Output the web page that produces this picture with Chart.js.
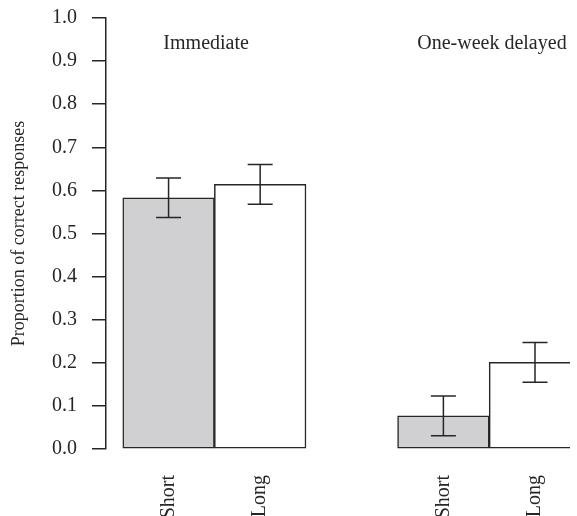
<!DOCTYPE html>
<html>
<head>
<meta charset="utf-8">
<script src="https://cdn.jsdelivr.net/npm/chart.js@4"></script>
<style>
  html, body { margin: 0; padding: 0; background: #fff; overflow: hidden; }
  canvas { display: block; }
</style>
</head>
<body>
<canvas id="myChart" width="577" height="516"></canvas>
<script>
// data
const groups = ["Immediate", "One-week delayed"];
const groupLabelX = [1.41, 4.53];
const tickPos = [1, 2, 4, 5];
const tickLabels = ["Short", "Long", "Short", "Long"];

const shortX = [1, 4];
const shortMeans = [0.583, 0.077];
const shortErr = [0.046, 0.046];

const longX = [2, 5];
const longMeans = [0.614, 0.201];
const longErr = [0.046, 0.046];

const serif = "'Liberation Serif', 'Times New Roman', serif";
const ink = "#262626";

function points(xs, ys) {
  return xs.map((x, i) => ({ x: x, y: ys[i] }));
}

// error bars drawn with the scales
const errorBars = {
  id: "errorBars",
  afterDatasetsDraw(chart) {
    const ctx = chart.ctx;
    const xs = chart.scales.x;
    const ys = chart.scales.y;
    ctx.save();
    ctx.strokeStyle = ink;
    ctx.lineWidth = 1.5;
    chart.data.datasets.forEach((ds) => {
      ds.data.forEach((p, i) => {
        const px = xs.getPixelForValue(p.x);
        const top = ys.getPixelForValue(p.y + ds.err[i]);
        const bot = ys.getPixelForValue(p.y - ds.err[i]);
        ctx.beginPath();
        ctx.moveTo(px, top);
        ctx.lineTo(px, bot);
        ctx.moveTo(px - 12.5, top);
        ctx.lineTo(px + 12.5, top);
        ctx.moveTo(px - 12.5, bot);
        ctx.lineTo(px + 12.5, bot);
        ctx.stroke();
      });
    });
    ctx.restore();
  },
};

// group titles
const groupTitles = {
  id: "groupTitles",
  afterDraw(chart) {
    const ctx = chart.ctx;
    ctx.save();
    ctx.fillStyle = ink;
    ctx.font = "20px " + serif;
    ctx.textAlign = "center";
    ctx.textBaseline = "middle";
    groups.forEach((g, i) => {
      ctx.fillText(g, chart.scales.x.getPixelForValue(groupLabelX[i]), chart.scales.y.getPixelForValue(0.941));
    });
    ctx.restore();
  },
};

new Chart("myChart", {
  type: "bar",
  data: {
    datasets: [
      {
        label: "Short",
        data: points(shortX, shortMeans),
        err: shortErr,
        backgroundColor: "#d0d0d2",
        borderColor: ink,
        borderWidth: 1.5,
        borderSkipped: false,
      },
      {
        label: "Long",
        data: points(longX, longMeans),
        err: longErr,
        backgroundColor: "#ffffff",
        borderColor: ink,
        borderWidth: 1.5,
        borderSkipped: false,
      },
    ],
  },
  options: {
    responsive: false,
    animation: false,
    grouped: false,
    barPercentage: 1,
    categoryPercentage: 1,
    layout: { padding: { top: 18, right: 0, left: 0, bottom: 0 } },
    plugins: {
      legend: { display: false },
      tooltip: { enabled: false },
    },
    scales: {
      x: {
        type: "linear",
        offset: false,
        min: 0.317,
        max: 5.382,
        grid: { display: false, offset: false },
        border: { display: false },
        afterBuildTicks: (scale) => {
          scale.ticks = tickPos.map((v) => ({ value: v }));
        },
        afterFit: (scale) => {
          scale.height = 67;
        },
        ticks: {
          autoSkip: false,
          minRotation: 90,
          maxRotation: 90,
          padding: 18,
          color: ink,
          font: { family: serif, size: 20 },
          callback: (v, i) => tickLabels[i],
        },
      },
      y: {
        min: 0,
        max: 1,
        afterFit: (scale) => {
          scale.width = 106;
          scale.paddingTop = 0;
          scale.paddingBottom = 0;
        },
        grid: {
          drawOnChartArea: false,
          drawTicks: true,
          tickLength: 14,
          color: ink,
          lineWidth: 1.5,
        },
        border: { display: true, color: ink, width: 1.5 },
        ticks: {
          stepSize: 0.1,
          padding: 15,
          color: ink,
          font: { family: serif, size: 20 },
          callback: (v) => v.toFixed(1),
        },
        title: {
          display: true,
          text: "Proportion of correct responses",
          color: ink,
          font: { family: serif, size: 18 },
          padding: { top: 8, bottom: 0 },
        },
      },
    },
  },
  plugins: [errorBars, groupTitles],
});
</script>
</body>
</html>
